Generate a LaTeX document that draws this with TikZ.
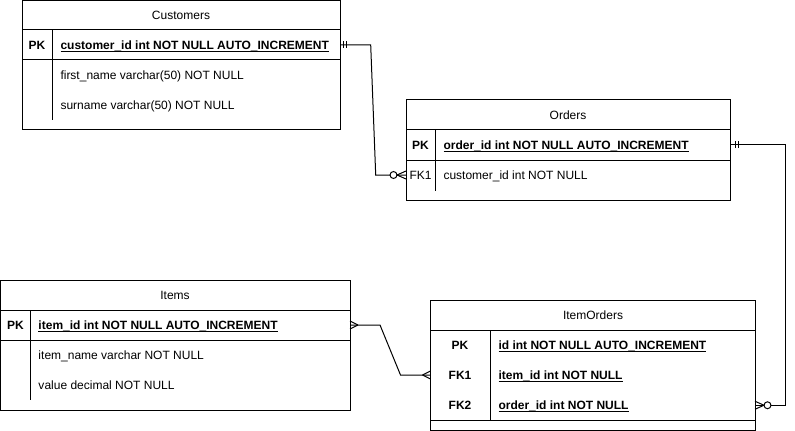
\documentclass[tikz,border=0pt]{standalone}
\usepackage{fontspec}
\setmainfont{Liberation Sans}
\usetikzlibrary{calc,fit}
\newcommand\erul[1]{\underline{\smash{#1}}}
\begin{document}
\begin{tikzpicture}[x=0.75pt,y=-0.75pt,line width=0.75pt,
  every node/.style={font=\fontsize{9pt}{11pt}\selectfont},
  tbl/.style={draw,inner sep=0pt,outer sep=0pt},
  rowbox/.style={draw=none,inner sep=0pt,outer sep=0pt},
  lbl/.style={anchor=base west,inner sep=0pt,yshift=-3.3pt},
  keytxt/.style={anchor=base,inner sep=0pt,yshift=-3.3pt},
  ttl/.style={anchor=base,inner sep=0pt,yshift=-3.3pt},
  conn/.style={line width=0.75pt},
  ermark/.style={line width=0.75pt}]
\useasboundingbox (0,0) rectangle (795,431);

% ---------- Customers ----------
\node[tbl,fit={(22,0.5)(340,130)}] (cust) {};
\node[rowbox,fit={(22,30)(340,60)}] (custpk) {};
\node[rowbox,fit={(22,60)(340,120)}] (custrest) {};
\draw (custpk.north west) -- (custpk.north east);
\draw (custpk.south west) -- (custpk.south east);
\draw (52,30) -- (52,120);
\node[ttl] (custttl) at (181,15) {Customers};
\node[keytxt] (custk1) at (37,45) {\textbf{PK}};
\node[lbl] (custf1) at (60,45) {\erul{\textbf{customer\_id int NOT NULL AUTO\_INCREMENT}}};
\node[lbl] (custf2) at (60,75) {first\_name varchar(50) NOT NULL};
\node[lbl] (custf3) at (60,105) {surname varchar(50) NOT NULL};

% ---------- Orders ----------
\node[tbl,fit={(406,100)(730,200)}] (ord) {};
\node[rowbox,fit={(406,130)(730,160)}] (ordpk) {};
\node[rowbox,fit={(406,160)(730,190)}] (ordfk) {};
\draw (ordpk.north west) -- (ordpk.north east);
\draw (ordpk.south west) -- (ordpk.south east);
\draw (435.5,130) -- (435.5,190.5);
\node[ttl] (ordttl) at (568,115) {Orders};
\node[keytxt] (ordk1) at (420.5,145) {\textbf{PK}};
\node[keytxt] (ordk2) at (420.5,175) {FK1};
\node[lbl] (ordf1) at (443,145) {\erul{\textbf{order\_id int NOT NULL AUTO\_INCREMENT}}};
\node[lbl] (ordf2) at (443,175) {customer\_id int NOT NULL};

% ---------- Items ----------
\node[tbl,fit={(0.5,280.5)(350,410)}] (items) {};
\node[rowbox,fit={(0.5,310)(350,340)}] (itpk) {};
\draw (itpk.north west) -- (itpk.north east);
\draw (itpk.south west) -- (itpk.south east);
\draw (30.5,310) -- (30.5,400);
\node[ttl] (itttl) at (175,295) {Items};
\node[keytxt] (itk1) at (15.5,325) {\textbf{PK}};
\node[lbl] (itf1) at (38,325) {\erul{\textbf{item\_id int NOT NULL AUTO\_INCREMENT}}};
\node[lbl] (itf2) at (38,355) {item\_name varchar NOT NULL};
\node[lbl] (itf3) at (38,385) {value decimal NOT NULL};

% ---------- ItemOrders ----------
\node[tbl,fit={(430.5,300.5)(755,430)}] (io) {};
\node[rowbox,fit={(430.5,330)(755,360)}] (iopk) {};
\node[rowbox,fit={(430.5,360)(755,390)}] (iofk1) {};
\node[rowbox,fit={(430.5,390)(755,420.5)}] (iofk2) {};
\draw (iopk.north west) -- (iopk.north east);
\draw (iofk2.south west) -- (iofk2.south east);
\draw (490.5,330) -- (490.5,420.5);
\node[ttl] (iottl) at (593,315) {ItemOrders};
\node[keytxt] (iok1) at (460,345) {\textbf{PK}};
\node[keytxt] (iok2) at (460,375) {\textbf{FK1}};
\node[keytxt] (iok3) at (460,405) {\textbf{FK2}};
\node[lbl] (iof1) at (498,345) {\erul{\textbf{id int NOT NULL AUTO\_INCREMENT}}};
\node[lbl] (iof2) at (498,375) {\erul{\textbf{item\_id int NOT NULL}}};
\node[lbl] (iof3) at (498,405) {\erul{\textbf{order\_id int NOT NULL}}};

% ---------- Connector Customers -> Orders ----------
\draw[conn] (custpk.east) -- ++(30.7,0) -- ($(ordfk.west)+(-30.3,0)$) -- (ordfk.west);
\draw[ermark] ($(custpk.east)+(3,-3.5)$) -- ++(0,7);
\draw[ermark] ($(custpk.east)+(6,-3.5)$) -- ++(0,7);
\draw[ermark,fill=white] ($(ordfk.west)+(-12.5,0)$) circle[radius=2.6pt];
\draw[ermark] ($(ordfk.west)+(-9,0)$) -- ($(ordfk.west)+(0,-4)$);
\draw[ermark] ($(ordfk.west)+(-9,0)$) -- ($(ordfk.west)+(0,4)$);

% ---------- Connector Orders -> ItemOrders ----------
\draw[conn] (ordpk.east) -- ++(55.3,0) |- (iofk2.east);
\draw[ermark] ($(ordpk.east)+(5,-3.5)$) -- ++(0,7);
\draw[ermark] ($(ordpk.east)+(8,-3.5)$) -- ++(0,7);
\draw[ermark,fill=white] ($(iofk2.east)+(12.5,0)$) circle[radius=2.6pt];
\draw[ermark] ($(iofk2.east)+(9,0)$) -- ($(iofk2.east)+(0,-4)$);
\draw[ermark] ($(iofk2.east)+(9,0)$) -- ($(iofk2.east)+(0,4)$);

% ---------- Connector Items -> ItemOrders ----------
\draw[conn] (itpk.east) -- ++(30,0) -- ($(iofk1.west)+(-30,0)$) -- (iofk1.west);
\draw[ermark] ($(itpk.east)+(8,0)$) -- ($(itpk.east)+(0,-4)$);
\draw[ermark] ($(itpk.east)+(8,0)$) -- ($(itpk.east)+(0,4)$);
\draw[ermark] ($(iofk1.west)+(-8,0)$) -- ($(iofk1.west)+(0,-4)$);
\draw[ermark] ($(iofk1.west)+(-8,0)$) -- ($(iofk1.west)+(0,4)$);
\end{tikzpicture}
\end{document}
